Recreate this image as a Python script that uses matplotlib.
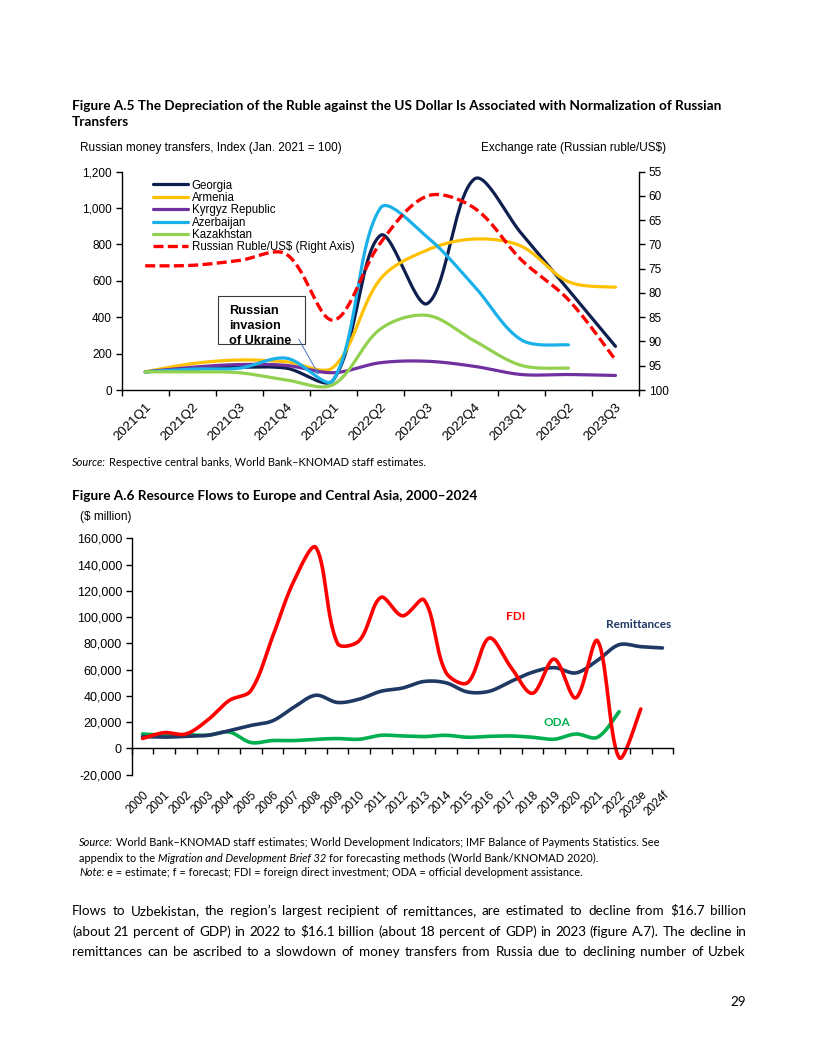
import matplotlib
matplotlib.use('Agg')
import matplotlib.pyplot as plt
import numpy as np
from matplotlib.patches import Rectangle, FancyArrowPatch
from matplotlib.ticker import FuncFormatter

plt.rcParams['font.family'] = ['Liberation Sans', 'DejaVu Sans']

# ---------------- data: Figure A.5 ----------------
quarters = ['2021Q1', '2021Q2', '2021Q3', '2021Q4', '2022Q1', '2022Q2',
            '2022Q3', '2022Q4', '2023Q1', '2023Q2', '2023Q3']
georgia = [100, 115, 125, 120, 55, 850, 475, 1160, 860, 550, 240]
armenia = [100, 145, 165, 155, 125, 610, 770, 830, 790, 595, 565]
kyrgyz = [100, 125, 140, 135, 95, 150, 158, 130, 85, 85, 80]
azerbaijan = [100, 115, 120, 175, 55, 1000, 840, 570, 275, 248]
kazakhstan = [100, 100, 95, 55, 30, 335, 410, 270, 135, 120]
ruble = [74.4, 74.3, 73.3, 72.0, 85.6, 69.7, 60.0, 62.5, 73.2, 81.4, 93.8]

# ---------------- data: Figure A.6 ----------------
years = ['2000', '2001', '2002', '2003', '2004', '2005', '2006', '2007', '2008',
         '2009', '2010', '2011', '2012', '2013', '2014', '2015', '2016', '2017',
         '2018', '2019', '2020', '2021', '2022', '2023e', '2024f']
remittances = [9000, 8600, 9200, 10000, 13500, 17500, 21000, 31500, 40500, 35000,
               37500, 43500, 46000, 51000, 50000, 43000, 43500, 51000, 58000,
               61500, 57500, 67000, 79000, 77500, 76500]
fdi = [7600, 12000, 11000, 21500, 36500, 44000, 85000, 128000, 153000, 80000,
       82000, 115000, 101000, 113000, 58000, 50000, 84000, 62000, 42000, 68000,
       38500, 82000, -7000, 30000]
oda = [11000, 10000, 10500, 10000, 12500, 4500, 6000, 6000, 7000, 7500, 7000,
       10000, 9500, 9000, 10000, 8500, 9200, 9500, 8500, 7000, 11000, 8500, 28000]

W, H = 816, 1056
fig = plt.figure(figsize=(W / 100, H / 100), dpi=100)
renderer = fig.canvas.get_renderer()


def fx(px):
    return px / W


def fy(py):
    return 1 - py / H


def smooth(y, sx, sy, n=30):
    """Chord-weighted cubic Bezier curve through the data points (Excel-like smoothing)."""
    y = np.asarray(y, float)
    x = np.arange(len(y), dtype=float)
    P = np.column_stack([x, y])
    Q = P * np.array([sx, sy])
    d = np.hypot(*np.diff(Q, axis=0).T)
    out = []
    m = len(P)
    for i in range(m - 1):
        p0 = P[i - 1] if i > 0 else P[i]
        p1, p2 = P[i], P[i + 1]
        p3 = P[i + 2] if i + 2 < m else P[i + 1]
        d12 = d[i]
        d01 = d[i - 1] if i > 0 else d12
        d23 = d[i + 1] if i + 1 < m - 1 else d12
        c1 = p1 + (p2 - p0) * d12 / (d01 + d12) / 3
        c2 = p2 - (p3 - p1) * d12 / (d12 + d23) / 3
        t = np.linspace(0, 1, n)[:, None]
        seg = (1 - t) ** 3 * p1 + 3 * (1 - t) ** 2 * t * c1 + 3 * (1 - t) * t ** 2 * c2 + t ** 3 * p2
        out.append(seg if i == 0 else seg[1:])
    out = np.vstack(out)
    return out[:, 0], out[:, 1]


def measure(t, **kw):
    a = fig.text(0, 0, t, **kw)
    w = a.get_window_extent(renderer).width
    a.remove()
    return w


def parts_width(parts, size, family):
    tot = 0
    for t, st, wt, sp in parts:
        kw = dict(fontsize=size, family=family, style=st, weight=wt)
        if sp:
            tot += measure('x x', **kw) - measure('xx', **kw)
        tot += measure(t, **kw)
    return tot


def draw_parts(x, y, parts, size, family, color='black'):
    cx = x
    for t, st, wt, sp in parts:
        kw = dict(fontsize=size, family=family, style=st, weight=wt)
        if sp:
            cx += measure('x x', **kw) - measure('xx', **kw)
        a = fig.text(fx(cx), fy(y), t, va='baseline', ha='left', color=color, **kw)
        cx += a.get_window_extent(renderer).width


def fit(parts, target, family, base=10.0):
    return base * target / parts_width(parts, base, family)


def justify(x0, x1, y, text, size, family):
    words = text.split()
    ws = [measure(w, fontsize=size, family=family) for w in words]
    gap = (x1 - x0 - sum(ws)) / (len(words) - 1)
    cx = x0
    for w, wd in zip(words, ws):
        fig.text(fx(cx), fy(y), w, fontsize=size, family=family, va='baseline', ha='left')
        cx += wd + gap


CAL = ['Lato', 'DejaVu Sans']

# ---------------- titles & notes ----------------
t1 = [("Figure A.5 The Depreciation of the Ruble against the US Dollar Is Associated with Normalization of Russian",
       'normal', 'bold', False)]
tsize = fit(t1, 648, CAL)
draw_parts(72, 110, t1, tsize, CAL)
draw_parts(72, 126.5, [("Transfers", 'normal', 'bold', False)], tsize, CAL)

src1 = [("Source:", 'italic', 'normal', False),
        ("Respective central banks, World Bank\u2013KNOMAD staff estimates.", 'normal', 'normal', True)]
ssize = fit(src1, 351, CAL)
draw_parts(72, 466, src1, ssize, CAL)

draw_parts(72, 500, [("Figure A.6 Resource Flows to Europe and Central Asia, 2000\u20132024", 'normal', 'bold', False)],
           tsize, CAL)

n1 = [("Source:", 'italic', 'normal', False),
      ("World Bank\u2013KNOMAD staff estimates; World Development Indicators; IMF Balance of Payments Statistics. See",
       'normal', 'normal', True)]
n2 = [("appendix to the", 'normal', 'normal', False),
      ("Migration and Development Brief 32", 'italic', 'normal', True),
      ("for forecasting methods (World Bank/KNOMAD 2020).", 'normal', 'normal', True)]
n3 = [("Note:", 'italic', 'normal', False),
      ("e = estimate; f = forecast; FDI = foreign direct investment; ODA = official development assistance.",
       'normal', 'normal', True)]
nsize = fit(n1, 577, CAL)
draw_parts(79, 846.5, n1, nsize, CAL)
draw_parts(79, 861.5, n2, nsize, CAL)
draw_parts(79, 876.5, n3, nsize, CAL)

para = ["Flows to Uzbekistan, the region\u2019s largest recipient of remittances, are estimated to decline from $16.7 billion",
        "(about 21 percent of GDP) in 2022 to $16.1 billion (about 18 percent of GDP) in 2023 (figure A.7). The decline in",
        "remittances can be ascribed to a slowdown of money transfers from Russia due to declining number of Uzbek"]
psize = min(fit([(p, 'normal', 'normal', False)], 668, CAL) for p in para)
for i, p in enumerate(para):
    justify(72, 746, 915 + 20.7 * i, p, psize, CAL)
fig.text(fx(746), fy(1006), "29", fontsize=psize, family=CAL, ha='right', va='baseline')

# ---------------- Figure A.5 chart ----------------
ax1 = fig.add_axes([fx(121.7), fy(390), (639 - 121.7) / W, (390 - 171.7) / H])
xq = np.arange(len(quarters))
sx1 = 517.3 / len(quarters)
series = [('Georgia', georgia, '#0E1F4F'), ('Armenia', armenia, '#FFC000'),
          ('Kyrgyz Republic', kyrgyz, '#7030A0'), ('Azerbaijan', azerbaijan, '#1AB0EA'),
          ('Kazakhstan', kazakhstan, '#92D050')]
handles = []
for name, vals, col in series:
    xs, ys = smooth(vals, sx1, 218.3 / 1200)
    ln, = ax1.plot(xs, ys, color=col, lw=2.3, solid_capstyle='round', label=name)
    handles.append(ln)
ax1.set_xlim(-0.5, len(quarters) - 0.5)
ax1.set_ylim(0, 1200)
ax1.set_yticks(np.arange(0, 1201, 200))
ax1.yaxis.set_major_formatter(FuncFormatter(lambda v, p: f'{v:,.0f}'))
ax1.set_xticks(np.arange(-0.5, len(quarters), 1))
ax1.set_xticklabels([])
ax1.set_xticks(xq, minor=True)
ax1.set_xticklabels(quarters, minor=True, rotation=45, ha='right', rotation_mode='anchor', fontsize=9.5)
ax1.tick_params(axis='x', which='minor', length=0, pad=8)
ax1.tick_params(axis='x', which='major', length=4, width=1, direction='out')
ax1.tick_params(axis='y', length=4, width=1, direction='out', labelsize=8.5, pad=3)
for s in ['top', 'right']:
    ax1.spines[s].set_visible(False)
for s in ['left', 'bottom']:
    ax1.spines[s].set_linewidth(1.0)

ax2 = ax1.twinx()
rx, ry = smooth(ruble, sx1, 218.3 / 45)
rl, = ax2.plot(rx, ry, color='#FF0000', lw=2.4, dashes=(3, 1.3), label='Russian Ruble/US$ (Right Axis)')
ax2.set_ylim(100, 55)
ax2.set_yticks(np.arange(55, 101, 5))
ax2.tick_params(axis='y', length=4, width=1, direction='out', labelsize=8.5, pad=3)
for s in ['top', 'left', 'bottom']:
    ax2.spines[s].set_visible(False)
ax2.spines['right'].set_linewidth(1.0)

leg = ax2.legend(handles + [rl], [h.get_label() for h in handles] + [rl.get_label()],
                 loc='upper left', bbox_to_anchor=((153 - 121.7) / 517.3, (390 - 179.5) / 218.3),
                 frameon=False, fontsize=8.3, handlelength=3.05, handletextpad=0.3,
                 labelspacing=0.03, borderpad=0, borderaxespad=0)

fig.text(fx(80), fy(148), "Russian money transfers, Index (Jan. 2021 = 100)", fontsize=8.5, va='center', ha='left')
fig.text(fx(666), fy(148), "Exchange rate (Russian ruble/US$)", fontsize=8.5, va='center', ha='right')

# annotation box
box = Rectangle((fx(218), fy(344)), (305 - 218) / W, (344 - 296) / H, transform=fig.transFigure,
                facecolor='white', edgecolor='#3A3A3A', lw=0.8, zorder=5)
fig.add_artist(box)
for i, t in enumerate(["Russian", "invasion", "of Ukraine"]):
    fig.text(fx(229.3), fy(314.3 + 15 * i), t, fontsize=9.2, weight='bold', va='baseline', ha='left', zorder=6)
arr = FancyArrowPatch((fx(297.3), fy(336.7)), (fx(320), fy(377)), transform=fig.transFigure,
                      arrowstyle='-|>', mutation_scale=6, color='#4472C4', lw=0.7, zorder=6)
fig.add_artist(arr)

# ---------------- Figure A.6 chart ----------------
ax3 = fig.add_axes([fx(131.7), fy(774.7), (673.3 - 131.7) / W, (774.7 - 538.3) / H])
sx3 = 541.6 / len(years)
for vals, col in [(oda, '#00B050'), (remittances, '#203864'), (fdi, '#FF0000')]:
    xs, ys = smooth(vals, sx3, 236.4 / 180000)
    ax3.plot(xs, ys, color=col, lw=2.6, solid_capstyle='round')
ax3.set_xlim(-0.5, len(years) - 0.5)
ax3.set_ylim(-20000, 160000)
ax3.set_yticks(np.arange(-20000, 160001, 20000))
ax3.yaxis.set_major_formatter(FuncFormatter(lambda v, p: f'{v:,.0f}'))
ax3.spines['bottom'].set_position(('data', 0))
for s in ['top', 'right']:
    ax3.spines[s].set_visible(False)
for s in ['left', 'bottom']:
    ax3.spines[s].set_linewidth(1.0)
ax3.set_xticks(np.arange(-0.5, len(years), 1))
ax3.set_xticklabels([])
ax3.set_xticks(np.arange(len(years)), minor=True)
ax3.set_xticklabels(years, minor=True, rotation=45, ha='right', rotation_mode='anchor', fontsize=8.5)
ax3.tick_params(axis='x', which='minor', length=0, pad=29)
ax3.tick_params(axis='x', which='major', length=4, width=1, direction='out')
ax3.tick_params(axis='y', length=4, width=1, direction='out', labelsize=9, pad=3)

fig.text(fx(80), fy(517), "($ million)", fontsize=8.5, va='center', ha='left')
fig.text(fx(516), fy(617), "FDI", fontsize=8.5, weight='bold', family=CAL, color='#FF0000', ha='center', va='center')
fig.text(fx(639), fy(625), "Remittances", fontsize=8.5, weight='bold', family=CAL, color='#203864', ha='center', va='center')
fig.text(fx(557), fy(723), "ODA", fontsize=8.5, weight='bold', family=CAL, color='#00B050', ha='center', va='center')

fig.savefig('out.png', dpi=100)
